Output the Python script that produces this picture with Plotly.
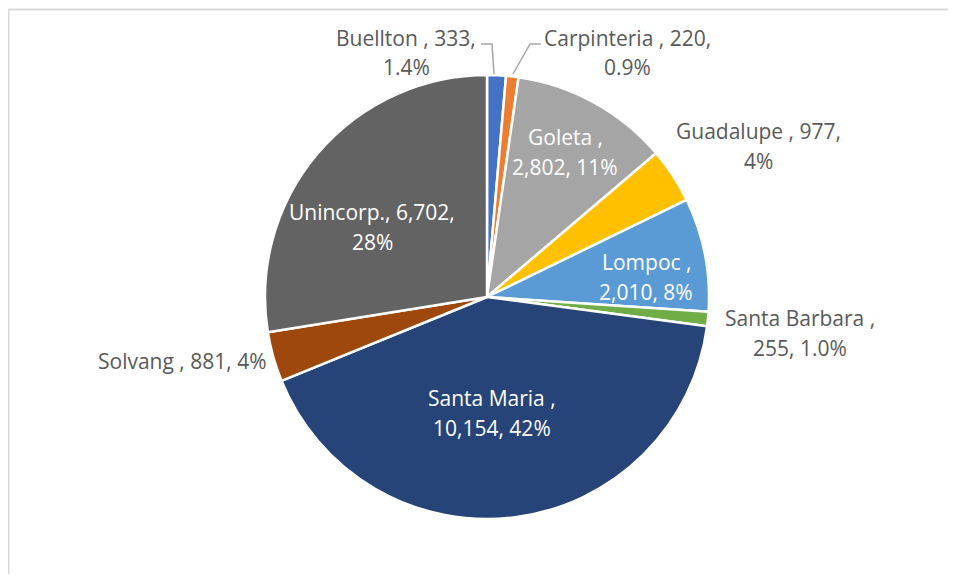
import plotly.graph_objects as go

# ── data ──────────────────────────────────────────────────────────
labels = ['Buellton ', 'Carpinteria ', 'Goleta ', 'Guadalupe ', 'Lompoc ',
          'Santa Barbara ', 'Santa Maria ', 'Solvang ', 'Unincorp.']
values = [333, 220, 2802, 977, 2010, 255, 10154, 881, 6702]
pct_text = ['1.4%', '0.9%', '11%', '4%', '8%', '1.0%', '42%', '4%', '28%']
colors = ['#4472C4', '#ED7D31', '#A5A5A5', '#FFC000', '#5B9BD5',
          '#70AD47', '#264478', '#9E480E', '#636363']

# page body has an 8px margin, so the figure is drawn 8px in from the window edge;
# keep it small enough that no scrollbar appears
OFF = 8
W, H = 956 - 2 * OFF, 582 - 2 * OFF

# label layout in window pixels: (center x, first line y, split mode, inside?)
# split: 'value' -> break after value, 'name' -> break after name, None -> one line
label_pos = {
    'Buellton ':      (406, 38, 'value', False),
    'Carpinteria ':   (627, 38, 'value', False),
    'Goleta ':        (565, 137, 'name', True),
    'Guadalupe ':     (758, 131, 'value', False),
    'Lompoc ':        (646, 262, 'name', True),
    'Santa Barbara ': (800, 318, 'name', False),
    'Santa Maria ':   (492, 398, 'name', True),
    'Solvang ':       (182, 361, None, False),
    'Unincorp.':      (372, 212, 'value', True),
}
LINE_H = 29.5
FONT = 'Open Sans, sans-serif'
FONT_SIZE = 21

cx, cy, r = 487, 297, 222

px = lambda x: (x - OFF) / W
py = lambda y: 1 - (y - OFF) / H

fig = go.Figure(go.Pie(
    labels=labels, values=values,
    sort=False, direction='clockwise', rotation=0,
    marker=dict(colors=colors, line=dict(color='white', width=2.5)),
    textinfo='none', hoverinfo='label+value+percent',
    domain=dict(x=[px(cx - r), px(cx + r)], y=[py(cy + r), py(cy - r)]),
    showlegend=False,
))

annotations = []
for lab, val, pct in zip(labels, values, pct_text):
    x, y0, split, inside = label_pos[lab]
    name = f'{lab},'
    if split == 'value':
        lines = [f'{name} {val:,},', pct]
    elif split == 'name':
        lines = [name, f'{val:,}, {pct}']
    else:
        lines = [f'{name} {val:,}, {pct}']
    for i, t in enumerate(lines):
        annotations.append(dict(
            x=px(x), y=py(y0 + i * LINE_H), xref='paper', yref='paper',
            text=t, showarrow=False, xanchor='center', yanchor='middle',
            font=dict(size=FONT_SIZE, family=FONT,
                      color='white' if inside else '#595959'),
        ))

# leader lines for the two thin slices + chart frame
lead = dict(color='#A6A6A6', width=1.5)
frame = dict(color='#D9D9D9', width=2)
shapes = [
    dict(type='path', xref='paper', yref='paper', line=lead,
         path=f'M {px(481)} {py(44)} L {px(492)} {py(44)} L {px(494)} {py(74)}'),
    dict(type='path', xref='paper', yref='paper', line=lead,
         path=f'M {px(541)} {py(44)} L {px(530)} {py(44)} L {px(513)} {py(74)}'),
    dict(type='line', xref='paper', yref='paper', x0=px(8.5), x1=1, y0=py(9.5), y1=py(9.5),
         line=frame),
    dict(type='line', xref='paper', yref='paper', x0=px(8.5), x1=px(8.5), y0=py(9.5), y1=0,
         line=frame),
]

fig.update_layout(
    width=W, height=H,
    margin=dict(l=0, r=0, t=0, b=0),
    paper_bgcolor='white', plot_bgcolor='white',
    annotations=annotations, shapes=shapes,
)

fig.write_html('out.html')
